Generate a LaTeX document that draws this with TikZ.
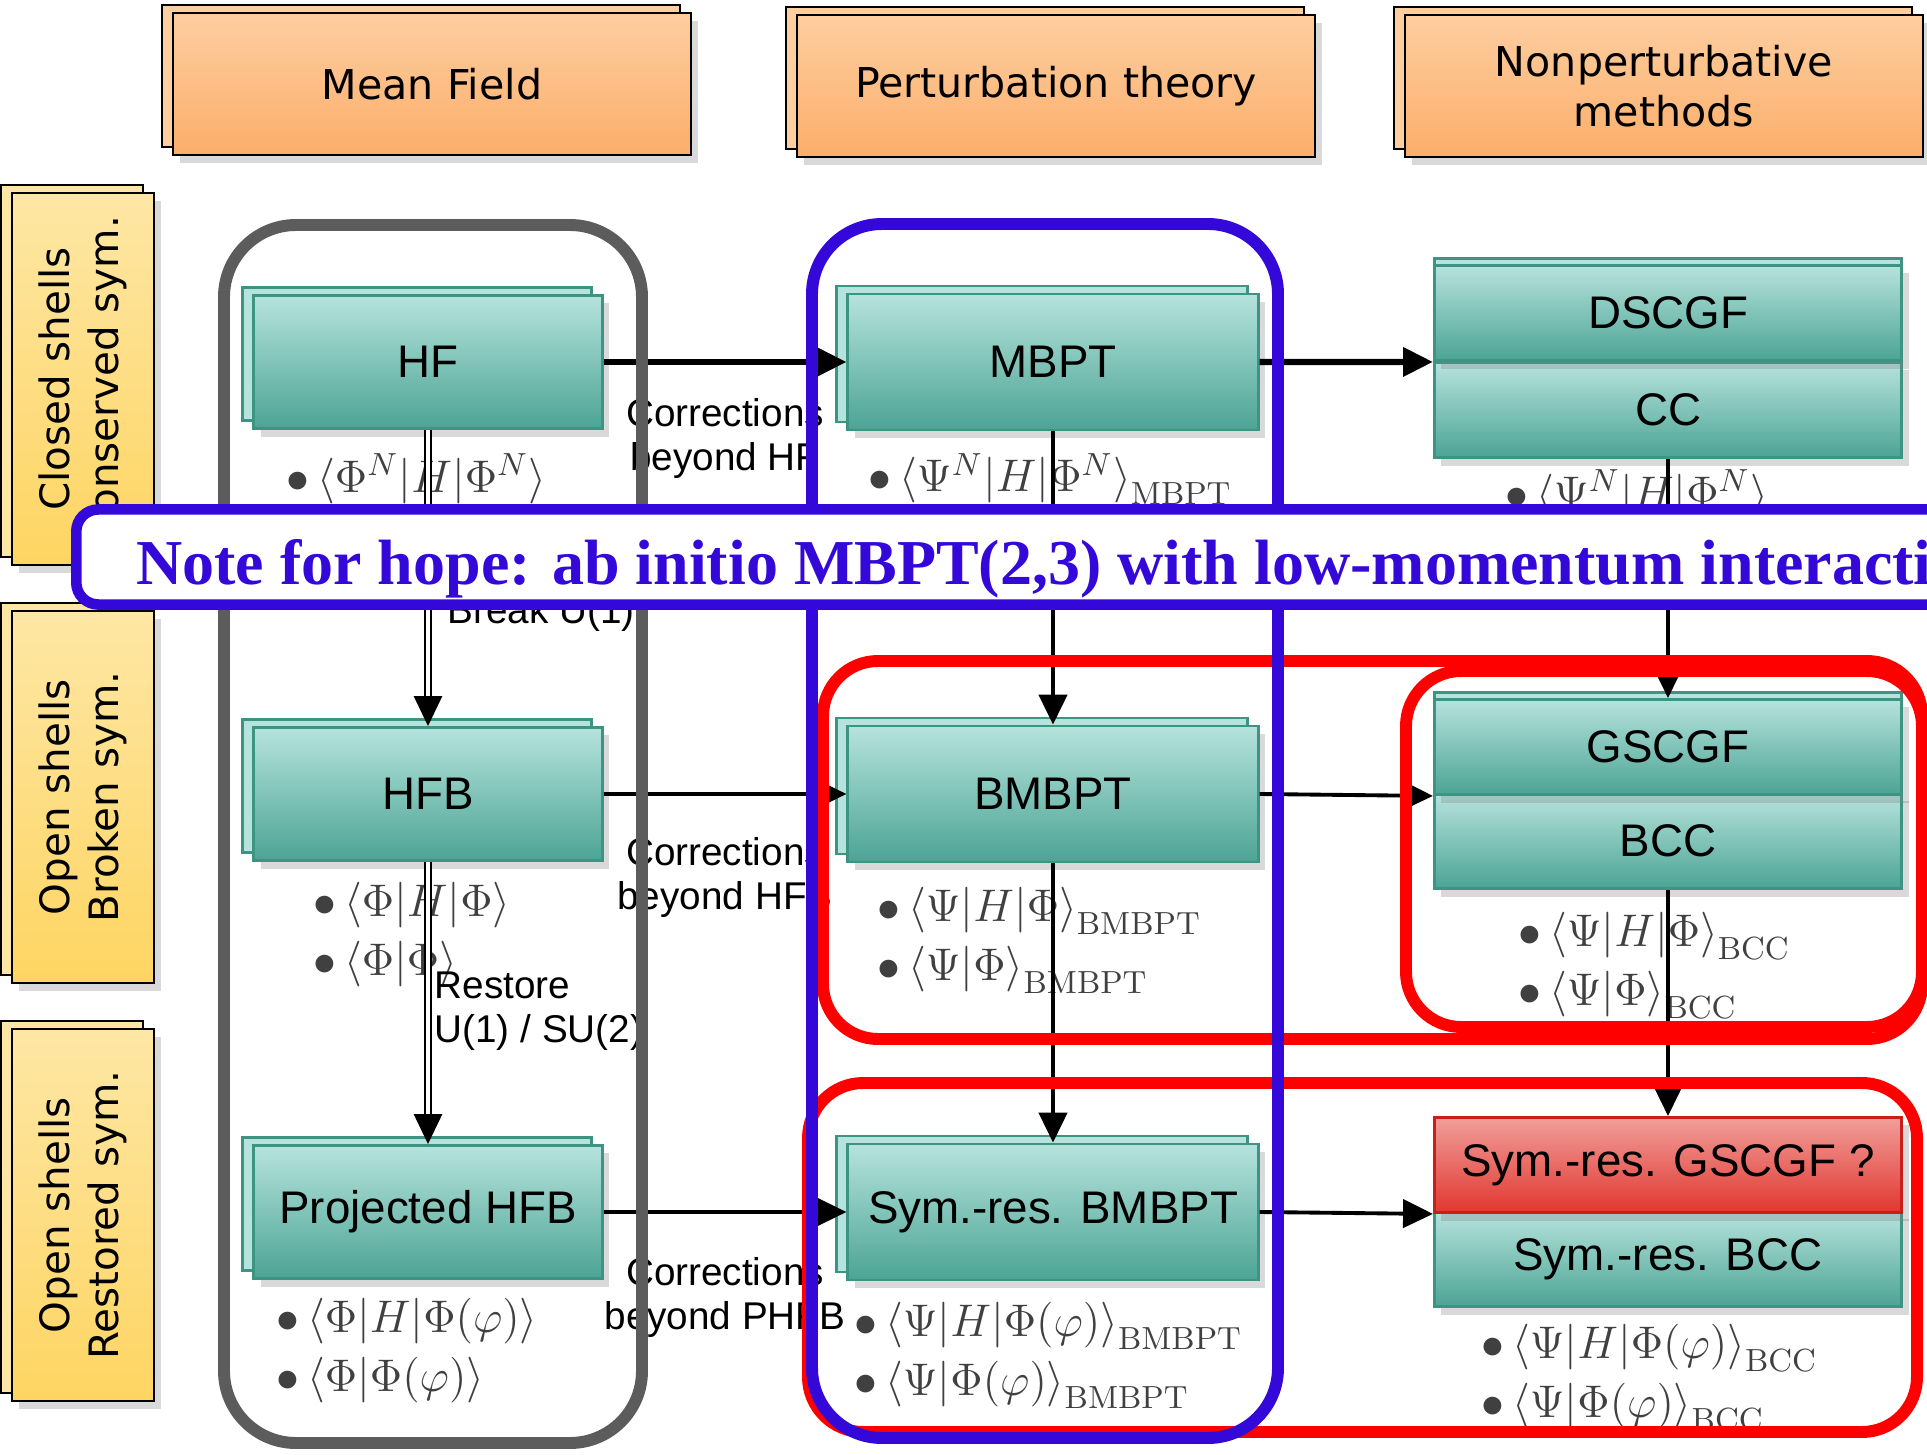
\RequirePackage{fix-cm}
\documentclass[tikz,border=0pt]{standalone}
\usepackage{fontspec}
\usetikzlibrary{arrows.meta,shadows}
\newfontfamily\headfont{DejaVu Sans}
\newfontfamily\boxfont{Liberation Sans}
\newfontfamily\notefont{Liberation Serif}
\definecolor{tealtop}{RGB}{182,227,221}
\definecolor{tealbot}{RGB}{76,164,148}
\definecolor{tealline}{RGB}{62,148,130}
\definecolor{orangetop}{RGB}{253,206,160}
\definecolor{orangebot}{RGB}{251,174,106}
\definecolor{yellowlight}{RGB}{254,231,165}
\definecolor{yellowdark}{RGB}{254,213,98}
\definecolor{redtop}{RGB}{241,158,154}
\definecolor{redbot}{RGB}{225,55,48}
\definecolor{redline}{RGB}{200,30,28}
\definecolor{noteblue}{RGB}{51,8,216}
\definecolor{framegray}{RGB}{92,92,92}
\tikzset{
  backcopy/.style 2 args={preaction={draw=#1,fill=#2,transform canvas={xshift=-0.11cm,yshift=0.08cm}}},
  upcopy/.style 2 args={preaction={draw=#1,fill=#2,transform canvas={yshift=0.07cm}}},
  boxshadow/.style={drop shadow={opacity=0.3,shadow xshift=0.07cm,shadow yshift=-0.08cm}},
  header/.style={boxshadow,backcopy={black}{orangetop},draw=black,line width=0.7pt,
    top color=orangetop,bottom color=orangebot,minimum width=5.18cm,minimum height=1.42cm,
    align=center,font=\headfont\fontsize{11.7}{14.2}\selectfont},
  rowlabel/.style={boxshadow,backcopy={black}{yellowlight},draw=black,line width=0.7pt,
    top color=yellowlight,bottom color=yellowdark,rotate=90,minimum width=3.72cm,
    minimum height=1.42cm,align=center,font=\headfont\fontsize{11.5}{14}\selectfont},
  method/.style={boxshadow,draw=tealline,line width=0.8pt,top color=tealtop,bottom color=tealbot,
    inner sep=2pt,font=\boxfont\fontsize{13}{15}\selectfont},
  mfcol/.style={method,backcopy={tealline}{tealtop},minimum width=3.48cm,minimum height=1.33cm},
  ptcol/.style={method,backcopy={tealline}{tealtop},minimum width=4.10cm,minimum height=1.36cm},
  npcol/.style={method,minimum width=4.67cm,minimum height=0.95cm},
  guess/.style={draw=redline,top color=redtop,bottom color=redbot},
  expr/.style={anchor=west,align=left,inner sep=0pt,text=black!75,
    font=\fontsize{13}{16.8}\selectfont},
  edgelabel/.style={font=\boxfont\fontsize{11}{12.5}\selectfont,align=center,inner sep=1pt},
  arr/.style={-{Triangle[length=8.5pt,width=8pt]},line width=1.1pt},
  thickarr/.style={arr,line width=1.8pt},
  dblarr/.style={-{Triangle[length=8.5pt,width=8pt]},double,double distance=1.3pt,line width=0.6pt},
  group/.style={line width=3.4pt,rounded corners=#1},
  notebox/.style={draw=noteblue,fill=white,line width=3pt,rounded corners=0.22cm,anchor=west,
    inner xsep=0.6cm,inner ysep=0.1cm,text height=0.62cm,text depth=0.08cm,
    minimum height=0.95cm,text=noteblue,
    font=\notefont\bfseries\fontsize{18.2}{22}\selectfont}
}

\begin{document}
\begin{tikzpicture}[x=0.01cm,y=-0.01cm]
\useasboundingbox (0,0) rectangle (1927,1455);
\clip (0,0) rectangle (1927,1455);

% column and row headings
\node[header] (mf) at (432,84) {Mean Field};
\node[header] (pt) at (1056,86) {Perturbation theory};
\node[header] (np) at (1664,86) {Nonperturbative\\methods};
\node[rowlabel] (closed) at (83,379) {Closed shells\\Conserved sym.};
\node[rowlabel] (broken) at (83,797) {Open shells\\Broken sym.};
\node[rowlabel] (restored) at (83,1215) {Open shells\\Restored sym.};

% expectation values
\node[expr] (eHF) at (286,479) {$\bullet\,\big\langle\Phi^N\big|H\big|\Phi^N\big\rangle$};
\node[expr] (eMBPT) at (868,479) {$\bullet\,\big\langle\Psi^N\big|H\big|\Phi^N\big\rangle_{\mathrm{MBPT}}$};
\node[expr] (eCC) at (1505,495) {$\bullet\,\big\langle\Psi^N\big|H\big|\Phi^N\big\rangle$};
\node[expr] (eHFB) at (313,935) {$\bullet\,\big\langle\Phi\big|H\big|\Phi\big\rangle$\\$\bullet\,\big\langle\Phi\big|\Phi\big\rangle$};
\node[expr] (eBMBPT) at (877,940) {$\bullet\,\big\langle\Psi\big|H\big|\Phi\big\rangle_{\mathrm{BMBPT}}$\\$\bullet\,\big\langle\Psi\big|\Phi\big\rangle_{\mathrm{BMBPT}}$};
\node[expr] (eBCC) at (1518,966) {$\bullet\,\big\langle\Psi\big|H\big|\Phi\big\rangle_{\mathrm{BCC}}$\\$\bullet\,\big\langle\Psi\big|\Phi\big\rangle_{\mathrm{BCC}}$};
\node[expr] (ePHFB) at (276,1351) {$\bullet\,\big\langle\Phi\big|H\big|\Phi\big(\varphi\big)\big\rangle$\\$\bullet\,\big\langle\Phi\big|\Phi\big(\varphi\big)\big\rangle$};
\node[expr] (eSymBMBPT) at (854,1355) {$\bullet\,\big\langle\Psi\big|H\big|\Phi\big(\varphi\big)\big\rangle_{\mathrm{BMBPT}}$\\$\bullet\,\big\langle\Psi\big|\Phi\big(\varphi\big)\big\rangle_{\mathrm{BMBPT}}$};
\node[expr] (eSymBCC) at (1481,1378) {$\bullet\,\big\langle\Psi\big|H\big|\Phi\big(\varphi\big)\big\rangle_{\mathrm{BCC}}$\\$\bullet\,\big\langle\Psi\big|\Phi\big(\varphi\big)\big\rangle_{\mathrm{BCC}}$};

% methods
\node[mfcol] (HF) at (428,362) {HF};
\node[mfcol] (HFB) at (428,794) {HFB};
\node[mfcol] (PHFB) at (428,1212) {Projected HFB};
\node[ptcol] (MBPT) at (1053,362) {MBPT};
\node[ptcol] (BMBPT) at (1053,794) {BMBPT};
\node[ptcol] (SymBMBPT) at (1053,1212) {Sym.-res. BMBPT};
\node[npcol] (CC) at (1668,410) {CC};
\node[npcol,upcopy={tealline}{tealtop}] (DSCGF) at (1668,313) {DSCGF};
\node[npcol] (BCC) at (1668,841) {BCC};
\node[npcol,upcopy={tealline}{tealtop}] (GSCGF) at (1668,747) {GSCGF};
\node[npcol] (SymBCC) at (1668,1259) {Sym.-res. BCC};
\node[npcol,guess] (SymGSCGF) at (1668,1165) {Sym.-res. GSCGF ?};

% connections
\draw[thickarr] (HF) -- (MBPT) node[edgelabel,midway,below=0.3cm] {Corrections\\beyond HF};
\draw[thickarr] (MBPT.east) -- (DSCGF.south west);
\draw[arr] (HFB) -- (BMBPT) node[edgelabel,midway,below=0.38cm] {Corrections\\beyond HFB};
\draw[arr] (BMBPT.east) -- (GSCGF.south west);
\draw[arr] (PHFB) -- (SymBMBPT) node[edgelabel,midway,below=0.4cm] {Corrections\\beyond PHFB};
\draw[arr] (SymBMBPT.east) -- (SymGSCGF.south west);
\draw[dblarr] (HF) -- (HFB) node[edgelabel,pos=0.62,right=0.15cm] {Break U(1)};
\draw[dblarr] (HFB) -- (PHFB) node[edgelabel,pos=0.53,right=0.02cm,align=left] {Restore\\U(1) / SU(2)};
\draw[arr] (MBPT) -- (BMBPT);
\draw[arr] (BMBPT) -- (SymBMBPT);
\draw[arr] (CC) -- (GSCGF);
\draw[arr] (BCC) -- (SymGSCGF);

% groupings
\draw[group=0.55cm,red] (823,661) rectangle (1922,1039);
\draw[group=0.55cm,red] (1406,671) rectangle (1922,1027);
\draw[group=0.55cm,red] (808,1083) rectangle (1917,1432);
\draw[group=0.72cm,framegray] (224,225) rectangle (642,1443);
\draw[group=0.7cm,noteblue] (812,224) rectangle (1278,1438);

\node[notebox] (note) at (71,557) {Note for hope: ab initio MBPT(2,3) with low-momentum interactions};
\end{tikzpicture}
\end{document}
